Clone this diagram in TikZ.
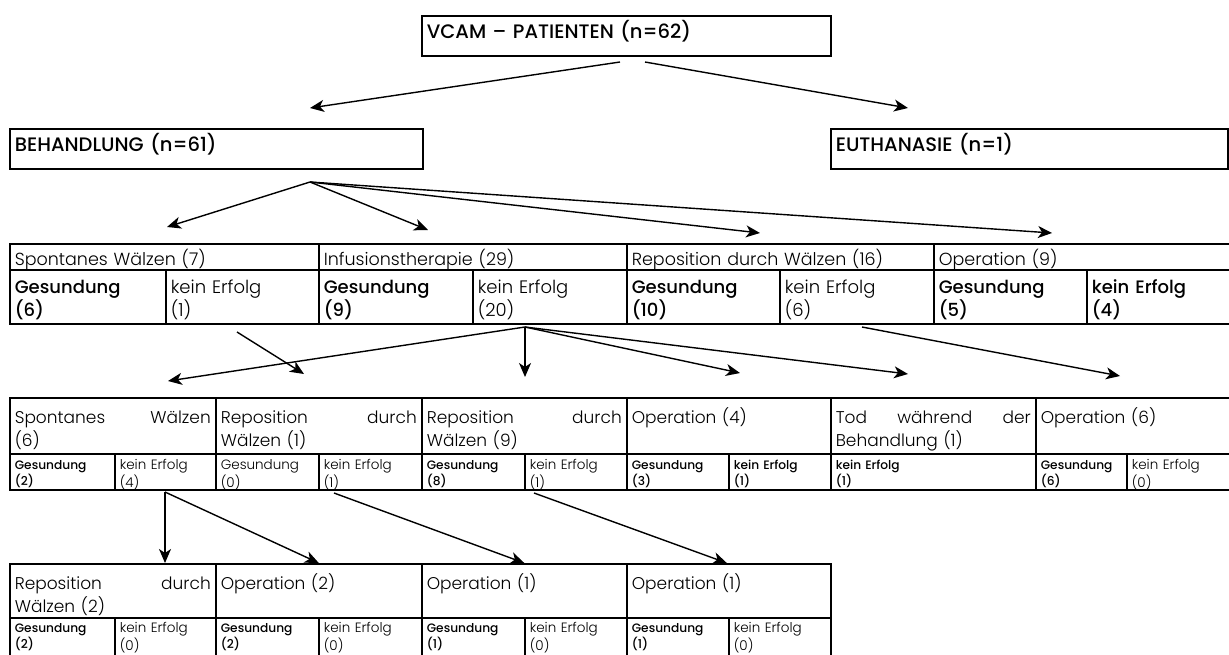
\documentclass[tikz,border=0pt]{standalone}
\usepackage{fontspec}
\setmainfont{Poppins}[UprightFont=* Light, BoldFont=* Medium]
\usetikzlibrary{arrows.meta,positioning}
\tikzset{
  box/.style={draw, line width=1.6pt, anchor=north west, inner xsep=5pt, inner ysep=0pt, align=left},
  label/.style={box, text width=#1, text height=23pt, text depth=17pt, font=\bfseries\fontsize{19.5}{23}\selectfont},
  lonehead/.style={box, text width=#1, text height=22pt, text depth=4pt, font=\fontsize{17.5}{23}\selectfont},
  lonefoot/.style={box, text width=#1, text height=24pt, text depth=30pt, font=\fontsize{18}{23}\selectfont},
  ltwohead/.style={box, text width=#1, text height=26pt, text depth=30pt, font=\fontsize{17}{23}\selectfont},
  ltwofoot/.style={box, text width=#1, text height=16pt, text depth=20pt, font=\fontsize{13.5}{14}\selectfont},
  lthreehead/.style={box, text width=#1, text height=26pt, text depth=28pt, font=\fontsize{17}{23}\selectfont},
  lthreefoot/.style={box, text width=#1, text height=15pt, text depth=28pt, font=\fontsize{13.5}{13.5}\selectfont},
  strong/.style={font=\bfseries\fontsize{12.2}{14}\selectfont},
  arr/.style={-{Stealth[length=14pt,width=12pt,inset=4pt]}, line width=1.4pt}
}
\begin{document}
\begin{tikzpicture}[x=1pt,y=-1pt]
  \useasboundingbox (0,0) rectangle (1229,654);
  \node[label=399pt] (vcam) at (421,15) {VCAM – PATIENTEN (n=62)};
  \node[label=403pt] (beh) at (9,128) {BEHANDLUNG (n=61)};
  \node[label=387pt] (euth) at (830,128) {EUTHANASIE (n=1)};

  \node[lonehead=299pt] (spw) at (9,243) {Spontanes Wälzen (7)};
  \node[lonehead=298pt] (inf) at (318,243) {Infusionstherapie (29)};
  \node[lonehead=297pt] (rep) at (626,243) {Reposition durch Wälzen (16)};
  \node[lonehead=289pt] (op) at (933,243) {Operation (9)};
  \node[lonefoot=146pt] (spwg) at (9,269) {\textbf{Gesundung}\\\textbf{(6)}};
  \node[lonefoot=143pt] (spwk) at (165,269) {kein Erfolg\\(1)};
  \node[lonefoot=144pt] (infg) at (318,269) {\textbf{Gesundung}\\\textbf{(9)}};
  \node[lonefoot=144pt] (infk) at (472,269) {kein Erfolg\\(20)};
  \node[lonefoot=143pt] (repg) at (626,269) {\textbf{Gesundung}\\\textbf{(10)}};
  \node[lonefoot=144pt] (repk) at (779,269) {kein Erfolg\\(6)};
  \node[lonefoot=143pt] (opg) at (933,269) {\textbf{Gesundung}\\\textbf{(5)}};
  \node[lonefoot=136pt] (opk) at (1086,269) {\textbf{kein Erfolg}\\\textbf{(4)}};

  \node[ltwohead=196pt] (a) at (9,397) {Spontanes\hfill Wälzen\\(6)};
  \node[ltwohead=196pt] (b) at (215,397) {Reposition\hfill durch\\Wälzen (1)};
  \node[ltwohead=195pt] (c) at (421,397) {Reposition\hfill durch\\Wälzen (9)};
  \node[ltwohead=194pt] (d) at (626,397) {Operation (4)};
  \node[ltwohead=195pt] (e) at (830,397) {Tod\hfill während\hfill der\\Behandlung (1)};
  \node[ltwohead=187pt] (f) at (1035,397) {Operation (6)};
  \node[ltwofoot=95pt, strong] (ag) at (9,453) {Gesundung\\(2)};
  \node[ltwofoot=91pt] (ak) at (114,453) {kein Erfolg\\(4)};
  \node[ltwofoot=93pt] (bg) at (215,453) {Gesundung\\(0)};
  \node[ltwofoot=93pt] (bk) at (318,453) {kein Erfolg\\(1)};
  \node[ltwofoot=93pt, strong] (cg) at (421,453) {Gesundung\\(8)};
  \node[ltwofoot=92pt] (ck) at (524,453) {kein Erfolg\\(1)};
  \node[ltwofoot=92pt, strong] (dg) at (626,453) {Gesundung\\(3)};
  \node[ltwofoot=92pt, strong] (dk) at (728,453) {kein Erfolg\\(1)};
  \node[ltwofoot=195pt, strong] (ek) at (830,453) {kein Erfolg\\(1)};
  \node[ltwofoot=81pt, strong] (fg) at (1035,453) {Gesundung\\(6)};
  \node[ltwofoot=96pt] (fk) at (1126,453) {kein Erfolg\\(0)};

  \node[lthreehead=196pt] (g) at (9,563) {Reposition\hfill durch\\Wälzen (2)};
  \node[lthreehead=196pt] (h) at (215,563) {Operation (2)};
  \node[lthreehead=195pt] (i) at (421,563) {Operation (1)};
  \node[lthreehead=194pt] (j) at (626,563) {Operation (1)};
  \node[lthreefoot=95pt, strong] (gg) at (9,617) {Gesundung\\(2)};
  \node[lthreefoot=91pt] (gk) at (114,617) {kein Erfolg\\(0)};
  \node[lthreefoot=93pt, strong] (hg) at (215,617) {Gesundung\\(2)};
  \node[lthreefoot=93pt] (hk) at (318,617) {kein Erfolg\\(0)};
  \node[lthreefoot=93pt, strong] (ig) at (421,617) {Gesundung\\(1)};
  \node[lthreefoot=92pt] (ik) at (524,617) {kein Erfolg\\(0)};
  \node[lthreefoot=92pt, strong] (jg) at (626,617) {Gesundung\\(1)};
  \node[lthreefoot=92pt] (jk) at (728,617) {kein Erfolg\\(0)};

  \coordinate (vcam-l) at (620,62);
  \coordinate (vcam-r) at (645,62);
  \coordinate (beh-in) at (310,108);
  \coordinate (euth-in) at (908,108);
  \coordinate (beh-out) at (310,182);
  \coordinate (spw-in) at (167,227);
  \coordinate (inf-in) at (428,230);
  \coordinate (rep-in) at (760,233);
  \coordinate (op-in) at (1052,233);
  \coordinate (spwk-out) at (237,332);
  \coordinate (infk-out) at (525,327);
  \coordinate (repk-out) at (862,327);
  \coordinate (a-in) at (168,381);
  \coordinate (b-in) at (304,374);
  \coordinate (c-in) at (525,377);
  \coordinate (d-in) at (740,373);
  \coordinate (e-in) at (908,374);
  \coordinate (f-in) at (1120,376);
  \coordinate (ak-out) at (165,492);
  \coordinate (bk-out) at (334,493);
  \coordinate (ck-out) at (534,493);

  \draw[arr] (vcam-l) -- (beh-in);
  \draw[arr] (vcam-r) -- (euth-in);
  \draw[arr] (beh-out) -- (spw-in);
  \draw[arr] (beh-out) -- (inf-in);
  \draw[arr] (beh-out) -- (rep-in);
  \draw[arr] (beh-out) -- (op-in);
  \draw[arr] (spwk-out) -- (b-in);
  \draw[arr] (infk-out) -- (a-in);
  \draw[arr] (infk-out) -- (c-in);
  \draw[arr] (infk-out) -- (d-in);
  \draw[arr] (infk-out) -- (e-in);
  \draw[arr] (repk-out) -- (f-in);
  \draw[arr] (ak-out) -- (g.north -| ak-out);
  \draw[arr] (ak-out) -- (h.north);
  \draw[arr] (bk-out) -- (i.north);
  \draw[arr] (ck-out) -- ([xshift=-2pt]j.north);
\end{tikzpicture}
\end{document}
